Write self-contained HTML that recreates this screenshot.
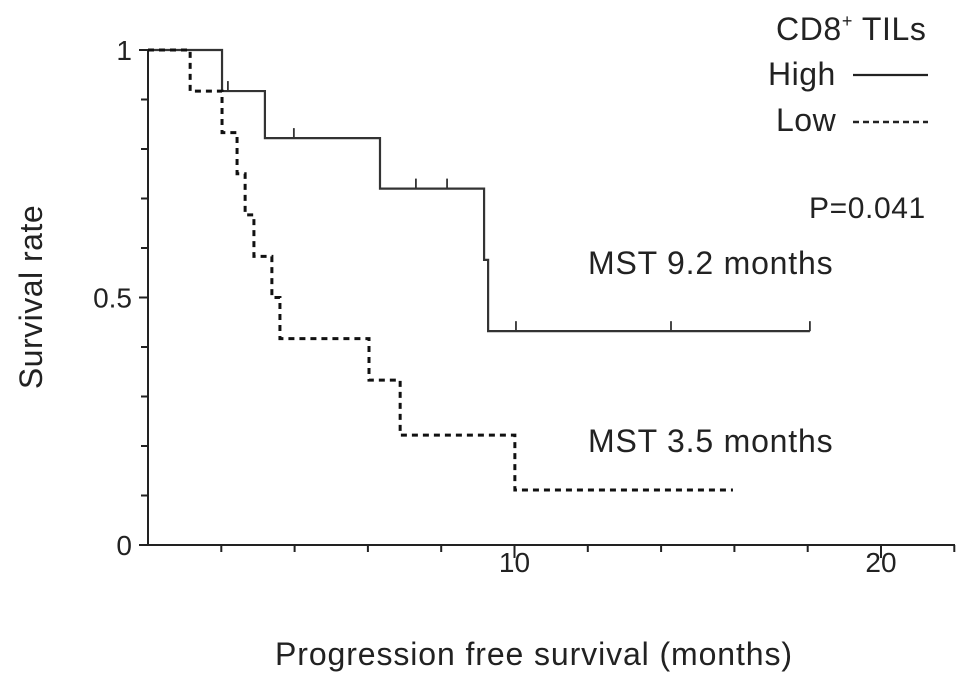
<!DOCTYPE html>
<html><head><meta charset="utf-8"><style>
body{margin:0;background:#fff}
svg{display:block}
text{font-family:"Liberation Sans",Arial,sans-serif;fill:#222}
</style></head><body>
<svg id="chart" width="969" height="681" viewBox="0 0 969 681" xmlns="http://www.w3.org/2000/svg">
<g id="axes"></g>
<g id="series"></g>
<text x="0" y="0" font-size="32" text-anchor="middle" letter-spacing="0.5" transform="translate(42,297) rotate(-90)">Survival rate</text>
<text x="534" y="665" font-size="32" letter-spacing="0.9" text-anchor="middle">Progression free survival (months)</text>
<g>
<text x="776" y="40" font-size="32" letter-spacing="0.6">CD8<tspan font-size="18" dy="-13">+</tspan><tspan dy="13"> TILs</tspan></text>
<text x="768" y="85" font-size="32" letter-spacing="0.5">High</text>
<line x1="853" y1="75" x2="928" y2="75" stroke="#222" stroke-width="2.2"/>
<text x="776" y="131" font-size="32" letter-spacing="0.5">Low</text>
<line x1="853" y1="122" x2="928" y2="122" stroke="#222" stroke-width="2.5" stroke-dasharray="6,4"/>
</g>
<text x="809" y="218" font-size="30" letter-spacing="0.6">P=0.041</text>
<text x="588" y="274" font-size="32" letter-spacing="0.8">MST 9.2 months</text>
<text x="588" y="452" font-size="32" letter-spacing="0.8">MST 3.5 months</text>
</svg>
<script>
const highTimes=[0,2.02,3.19,6.33,9.17,9.28,18.06];
const highSurv=[1,0.917,0.822,0.72,0.576,0.432,0.432];
const highCensor=[2.18,3.98,7.31,8.16,10.04,14.27,18.06];
const lowTimes=[0,1.15,2.02,2.43,2.65,2.89,3.38,3.6,6.03,6.88,10.01,15.96];
const lowSurv=[1,0.917,0.833,0.75,0.667,0.583,0.5,0.417,0.333,0.222,0.111,0.111];
const xTickLabels=["10","20"];
const yTickLabels=["0","0.5","1"];
const NS="http://www.w3.org/2000/svg";
const X=t=>148+t*36.65, Y=s=>545-s*495;
function mk(tag,attrs,parent){const e=document.createElementNS(NS,tag);for(const k in attrs)e.setAttribute(k,attrs[k]);parent.appendChild(e);return e;}
const ax=document.getElementById('axes'), se=document.getElementById('series');
let a=mk('path',{d:`M${X(0)},${Y(1)} V${Y(0)} H955`,fill:'none',stroke:'#222','stroke-width':2},ax);


for(let i=0;i<=10;i++){const v=i/10,maj=(i%5===0);
 const t=mk('line',{x1:X(0),x2:X(0)-(maj?9:7),y1:Y(v),y2:Y(v),stroke:'#222','stroke-width':2},ax);
 
 }
for(let m=2;m<=22;m+=2){const maj=(m%10===0);
 const t=mk('line',{x1:X(m),x2:X(m),y1:Y(0),y2:Y(0)+(maj?13:7),stroke:'#222','stroke-width':2},ax);
 
 }
xTickLabels.forEach(l=>{const t=mk('text',{x:X(+l),y:572,'font-size':28,'text-anchor':'middle'},ax);t.textContent=l;
 
 });
yTickLabels.forEach(l=>{const t=mk('text',{x:132,y:Y(+l)+10,'font-size':28,'text-anchor':'end'},ax);t.textContent=l;
 
 });
function step(times,surv){let d=`M${X(times[0])},${Y(surv[0])}`;for(let i=1;i<times.length;i++){d+=` H${X(times[i])} V${Y(surv[i])}`;}return d;}
const hp=mk('path',{d:step(highTimes,highSurv),fill:'none',stroke:'#333','stroke-width':2.2},se);


const lp=mk('path',{d:step(lowTimes,lowSurv),fill:'none',stroke:'#111','stroke-width':3,'stroke-dasharray':'6,5'},se);


highCensor.forEach(t=>{let s=highSurv[0];for(let i=0;i<highTimes.length;i++)if(highTimes[i]<=t)s=highSurv[i];
 const c=mk('line',{x1:X(t),x2:X(t),y1:Y(s),y2:Y(s)-10,stroke:'#333','stroke-width':1.8},se);
 
 });
</script>
</body></html>
